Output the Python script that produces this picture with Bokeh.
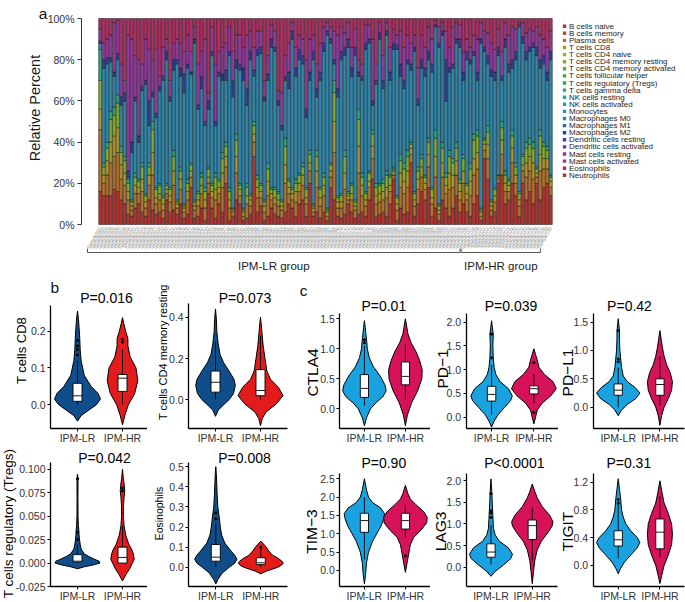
import numpy as np
from bokeh.plotting import figure
from bokeh.models import Range1d, FixedTicker, ColumnDataSource, NumeralTickFormatter
from bokeh.layouts import row, column
from bokeh.embed import file_html
from bokeh.resources import INLINE
from bokeh.core.properties import value

FONT = "Liberation Sans"

# ---------------- panel a data ----------------
cell_types = ["B cells naive", "B cells memory", "Plasma cells", "T cells CD8", "T cells CD4 naive",
              "T cells CD4 memory resting", "T cells CD4 memory activated", "T cells follicular helper",
              "T cells regulatory (Tregs)", "T cells gamma delta", "NK cells resting", "NK cells activated",
              "Monocytes", "Macrophages M0", "Macrophages M1", "Macrophages M2", "Dendritic cells resting",
              "Dendritic cells activated", "Mast cells resting", "Mast cells activated", "Eosinophils",
              "Neutrophils"]
palette = ["#B5332E", "#B5512E", "#B3712D", "#AC952B", "#9EAB2C", "#84AB2D", "#62AA2F", "#40A838",
           "#2EA857", "#2DA67B", "#2CA39C", "#2C9DAD", "#2D93AE", "#2E86AA", "#2F62A6", "#2F3C93",
           "#4D35A0", "#7036A0", "#92389B", "#A5348A", "#B02F63", "#B22F45"]

b_cells_naive = [16,14,14,14,17,16,12,10,5,4,8,10,6,4,12,7,5,6,3,12,6,7,5,10,3,5,18,3,4,8,2,15,8,
                 3,10,6,20,2,4,12,10,2,3,5,33,6,9,2,4,8,5,4,3,6,10,8,4,10,12,4,20,4,6,3,6,2,
                 18,12,4,3,5,10,6,3,5,6,4,12,22,4,5,6,4,10,22,2,8,5,6,30,4,10,16,12,18,4,8,2,12,
                 8,4,8,14,6,10,6,4,10,14,2,32,22,4,6,20,24,10,12,20,14,4,20,12,16,10,20,12,18,20,14]
plasma_cells = [30,6,10,16,16,19,10,9,7,3,7,5,10,4,7,17,5,6,4,3,5,12,3,7,3,7,5,4,5,7,6,5,5,
                9,5,12,8,6,2,13,4,2,7,4,7,7,4,4,10,4,5,5,4,14,5,4,7,6,7,6,6,2,12,6,8,2,
                5,23,4,5,12,2,6,4,20,8,5,6,10,6,6,6,9,6,2,5,10,10,12,4,5,7,7,5,10,6,15,3,11,
                7,13,10,10,6,10,6,10,14,13,2,4,10,3,5,2,10,6,4,10,6,5,6,11,10,12,3,14,9,7,4]
t_cells_cd8 = [10,4,7,10,10,12,7,6,4,2,4,3,6,3,5,11,3,3,3,2,3,7,2,5,2,4,3,2,3,4,4,3,3,
               5,3,7,5,4,1,8,3,2,4,3,4,5,3,3,7,3,3,3,2,9,3,3,5,4,5,3,4,2,8,4,5,2,
               3,15,3,3,8,2,3,2,13,5,3,3,6,4,4,4,5,3,2,3,7,6,8,3,3,5,5,3,6,3,10,2,7,
               4,8,6,7,4,6,3,7,8,8,2,3,7,2,3,1,7,4,3,7,4,3,3,7,7,8,2,8,5,5,3]
t_cells_cd4_memory_resting = [14,4,6,11,10,12,6,6,4,2,4,3,6,3,4,11,4,4,3,2,3,7,1,4,1,4,3,2,3,4,4,4,3,
                              6,3,7,5,4,1,8,2,1,4,2,4,4,3,2,6,2,4,3,2,9,3,2,4,4,4,4,4,1,7,4,4,1,
                              3,14,2,3,8,1,4,2,13,4,3,4,6,4,4,4,6,4,1,3,6,6,7,2,3,4,4,3,6,4,9,2,7,
                              4,8,6,6,4,6,4,6,9,8,1,2,6,2,3,1,6,4,2,6,4,3,4,7,6,7,2,9,6,4,2]
t_cells_gamma_delta = [15,2,3,4,4,4,3,2,2,1,2,1,2,1,2,4,1,1,1,1,1,3,1,2,1,2,1,1,1,2,2,1,1,
                       2,1,3,2,2,0,3,1,1,2,1,2,2,1,1,3,1,1,1,1,4,1,1,2,1,2,1,2,1,3,1,2,1,
                       1,6,1,1,3,1,1,1,5,2,1,1,2,2,1,2,2,1,1,1,3,3,3,1,1,2,2,1,2,1,4,1,3,
                       2,3,2,3,2,2,1,3,3,3,1,1,3,1,1,0,3,2,1,3,2,1,1,3,3,3,1,3,2,2,1]
macrophages_m0 = [3,46,38,24,15,17,20,27,1,23,35,18,35,53,18,12,34,45,56,60,42,39,66,44,54,54,43,76,40,41,30,28,62,
                  23,50,35,30,64,54,32,55,62,38,65,22,58,63,48,40,68,66,42,34,28,44,72,50,55,48,34,34,70,26,52,59,84,
                  58,8,48,65,46,70,52,70,16,45,69,62,12,48,70,44,66,46,57,71,38,36,42,35,68,30,42,48,38,56,50,76,52,
                  35,38,44,48,64,36,60,48,38,24,80,42,30,60,52,58,20,60,52,30,50,80,54,40,42,46,54,30,38,32,56]
macrophages_m2 = [1,4,3,2,2,3,4,4,3,5,2,3,2,2,12,2,2,2,2,4,2,5,2,4,9,2,1,2,2,6,2,4,2,
                  2,2,3,5,2,8,4,3,6,8,4,3,3,3,2,3,4,2,2,2,2,8,4,4,5,4,4,4,4,4,4,4,2,
                  2,2,4,4,4,4,4,4,2,2,3,2,2,2,3,4,2,4,3,2,6,4,2,3,2,3,4,4,4,4,1,2,2,
                  20,2,2,2,4,4,4,2,2,4,2,2,4,3,4,4,2,4,4,4,4,1,3,4,2,2,4,4,4,4,4]
mast_cells_resting = [6,8,9,11,24,16,16,6,66,50,20,37,11,20,25,16,31,5,14,6,8,8,10,12,11,14,10,6,20,12,40,4,12,
                      28,10,13,13,12,14,12,14,10,26,10,11,9,8,8,9,7,8,5,16,10,14,4,10,7,8,24,16,8,12,14,8,4,
                      6,14,26,12,7,8,10,9,6,6,9,7,30,8,5,12,4,12,7,5,16,16,12,10,6,15,12,10,12,12,2,8,4,
                      14,10,18,8,7,10,6,6,8,16,8,8,11,13,11,9,12,8,14,16,11,1,7,9,9,6,10,12,8,12,10]
eosinophils = [5,12,10,8,2,1,22,30,8,10,18,20,22,10,15,20,15,28,14,10,30,12,10,12,16,8,16,4,22,16,10,36,4,
               22,16,14,12,4,16,8,8,14,8,6,14,6,6,30,18,3,6,35,36,18,12,2,14,8,10,20,10,8,22,12,4,2,
               4,6,8,4,7,2,14,5,20,22,3,3,10,22,2,18,2,14,5,8,6,14,8,12,8,24,8,14,4,10,1,4,2,
               6,14,4,2,3,16,10,14,8,10,2,6,7,12,15,5,16,2,8,4,5,2,2,7,5,6,4,8,10,14,6]
stack_types = ["B cells naive", "Plasma cells", "T cells CD8", "T cells CD4 memory resting",
               "T cells gamma delta", "Macrophages M0", "Macrophages M2", "Mast cells resting", "Eosinophils"]
stack_values = [b_cells_naive, plasma_cells, t_cells_cd8, t_cells_cd4_memory_resting, t_cells_gamma_delta,
                macrophages_m0, macrophages_m2, mast_cells_resting, eosinophils]
n_lr, n_hr = 107, 23
group_names = ["IPM-LR group", "IPM-HR group"]
sample_ids = ["Sample%03d" % (i + 1) for i in range(n_lr + n_hr)]
pct_ticks = [0, 0.2, 0.4, 0.6, 0.8, 1.0]

# ---------------- panels b, c data (violin profile: level, half-width; box: lo, q1, med, q3, hi) ----------------
groups = ["IPM-LR", "IPM-HR"]

cd8_lr_y = [-0.045, -0.03, -0.015, 0.0, 0.015, 0.03, 0.05, 0.08, 0.12, 0.15, 0.18, 0.21, 0.235, 0.255]
cd8_lr_w = [0.0, 0.08, 0.25, 0.42, 0.51, 0.46, 0.3, 0.15, 0.08, 0.06, 0.05, 0.035, 0.02, 0.0]
cd8_hr_y = [-0.055, -0.03, 0.0, 0.03, 0.065, 0.1, 0.13, 0.16, 0.18, 0.2, 0.22, 0.237]
cd8_hr_w = [0.0, 0.05, 0.13, 0.27, 0.34, 0.3, 0.17, 0.12, 0.12, 0.07, 0.03, 0.0]
cd8_box = [[0.0, 0.009, 0.024, 0.058, 0.12], [0.0, 0.036, 0.072, 0.082, 0.15]]
cd8_out = [[0.135, 0.15, 0.16, 0.175], [0.17, 0.178]]

cd4r_lr_y = [-0.08, -0.05, -0.02, 0.0, 0.03, 0.07, 0.1, 0.14, 0.18, 0.22, 0.27, 0.33, 0.39, 0.44]
cd4r_lr_w = [0.0, 0.06, 0.2, 0.3, 0.4, 0.44, 0.41, 0.3, 0.18, 0.1, 0.06, 0.03, 0.02, 0.0]
cd4r_hr_y = [-0.125, -0.09, -0.06, -0.02, 0.02, 0.06, 0.1, 0.14, 0.2, 0.26, 0.32, 0.37, 0.40]
cd4r_hr_w = [0.0, 0.04, 0.12, 0.35, 0.5, 0.4, 0.22, 0.14, 0.1, 0.06, 0.035, 0.015, 0.0]
cd4r_box = [[0.0, 0.037, 0.085, 0.139, 0.28], [0.0, 0.02, 0.045, 0.146, 0.31]]
cd4r_out = [[], []]

treg_lr_y = [-0.006, -0.004, -0.002, 0.0, 0.002, 0.004, 0.007, 0.01, 0.015, 0.02, 0.025, 0.03, 0.035,
             0.04, 0.05, 0.07, 0.085, 0.09, 0.095]
treg_lr_w = [0.0, 0.15, 0.35, 0.5, 0.48, 0.38, 0.25, 0.15, 0.08, 0.06, 0.045, 0.035, 0.03, 0.02, 0.012,
             0.01, 0.012, 0.01, 0.0]
treg_hr_y = [-0.019, -0.012, -0.006, 0.0, 0.004, 0.01, 0.015, 0.02, 0.03, 0.04, 0.05, 0.06, 0.07, 0.077,
             0.083, 0.09, 0.1]
treg_hr_w = [0.0, 0.08, 0.16, 0.22, 0.26, 0.24, 0.2, 0.14, 0.07, 0.035, 0.02, 0.02, 0.035, 0.05, 0.04,
             0.02, 0.0]
treg_box = [[0.0, 0.001, 0.002, 0.009, 0.02], [0.0, 0.0, 0.006, 0.017, 0.04]]
treg_out = [[0.025, 0.033, 0.09], [0.077, 0.08]]

eos_lr_y = [-0.083, -0.06, -0.03, 0.0, 0.02, 0.04, 0.06, 0.08, 0.12, 0.16, 0.2, 0.24, 0.3, 0.36, 0.42, 0.47, 0.5]
eos_lr_w = [0.0, 0.05, 0.14, 0.3, 0.42, 0.47, 0.42, 0.34, 0.2, 0.13, 0.1, 0.08, 0.045, 0.03, 0.02, 0.01, 0.0]
eos_hr_y = [-0.033, -0.02, -0.01, 0.0, 0.01, 0.02, 0.03, 0.045, 0.06, 0.08, 0.1, 0.115, 0.13]
eos_hr_w = [0.0, 0.12, 0.25, 0.38, 0.46, 0.5, 0.47, 0.38, 0.26, 0.18, 0.12, 0.06, 0.0]
eos_box = [[0.0, 0.03, 0.05, 0.113, 0.22], [0.0, 0.013, 0.022, 0.047, 0.1]]
eos_out = [[0.24, 0.27], [0.1]]

ctla4_lr_y = [-0.28, -0.15, 0.0, 0.1, 0.2, 0.3, 0.4, 0.55, 0.7, 0.85, 1.0, 1.1, 1.25, 1.35, 1.47]
ctla4_lr_w = [0.0, 0.05, 0.15, 0.28, 0.45, 0.53, 0.5, 0.38, 0.22, 0.12, 0.07, 0.06, 0.035, 0.02, 0.0]
ctla4_hr_y = [-0.28, -0.1, 0.1, 0.3, 0.5, 0.65, 0.8, 0.95, 1.1, 1.25, 1.38, 1.5]
ctla4_hr_w = [0.0, 0.05, 0.15, 0.3, 0.4, 0.41, 0.35, 0.26, 0.14, 0.06, 0.03, 0.0]
ctla4_box = [[0.05, 0.19, 0.34, 0.57, 1.05], [0.15, 0.40, 0.54, 0.78, 1.08]]
ctla4_out = [[1.1, 1.15], []]

pd1_lr_y = [-0.21, -0.1, 0.05, 0.2, 0.35, 0.45, 0.6, 0.75, 0.9, 1.05, 1.25, 1.5, 1.62, 1.75, 1.88, 2.03]
pd1_lr_w = [0.0, 0.05, 0.15, 0.3, 0.45, 0.49, 0.4, 0.2, 0.1, 0.06, 0.04, 0.03, 0.035, 0.04, 0.02, 0.0]
pd1_hr_y = [-0.14, 0.0, 0.15, 0.3, 0.45, 0.6, 0.75, 0.9, 1.05, 1.2, 1.32, 1.44]
pd1_hr_w = [0.0, 0.04, 0.08, 0.2, 0.4, 0.53, 0.45, 0.25, 0.12, 0.08, 0.04, 0.0]
pd1_box = [[0.05, 0.34, 0.48, 0.65, 1.1], [0.3, 0.49, 0.6, 0.66, 0.9]]
pd1_out = [[1.25, 1.75], [1.15, 0.1]]

pdl1_lr_y = [-0.15, -0.05, 0.05, 0.15, 0.25, 0.35, 0.45, 0.55, 0.7, 0.85, 1.0, 1.2, 1.35, 1.45, 1.56]
pdl1_lr_w = [0.0, 0.08, 0.22, 0.42, 0.52, 0.4, 0.22, 0.12, 0.08, 0.06, 0.04, 0.03, 0.03, 0.015, 0.0]
pdl1_hr_y = [-0.32, -0.15, 0.0, 0.15, 0.3, 0.45, 0.6, 0.75, 0.9, 1.05, 1.2, 1.35]
pdl1_hr_w = [0.0, 0.04, 0.1, 0.2, 0.28, 0.3, 0.25, 0.16, 0.1, 0.06, 0.03, 0.0]
pdl1_box = [[0.0, 0.21, 0.3, 0.41, 0.7], [0.03, 0.21, 0.4, 0.5, 0.9]]
pdl1_out = [[0.8, 0.85, 1.35], []]

tim3_lr_y = [-0.36, -0.1, 0.2, 0.5, 0.8, 1.0, 1.2, 1.4, 1.55, 1.7, 1.85, 2.0, 2.2, 2.5]
tim3_lr_w = [0.0, 0.03, 0.05, 0.1, 0.2, 0.3, 0.4, 0.47, 0.49, 0.4, 0.2, 0.1, 0.05, 0.0]
tim3_hr_y = [-0.05, 0.2, 0.45, 0.7, 0.9, 1.1, 1.3, 1.45, 1.6, 1.8, 1.95, 2.1, 2.32]
tim3_hr_w = [0.0, 0.04, 0.08, 0.12, 0.2, 0.38, 0.52, 0.53, 0.45, 0.25, 0.12, 0.06, 0.0]
tim3_box = [[0.3, 1.04, 1.36, 1.56, 2.0], [0.9, 1.13, 1.36, 1.56, 1.8]]
tim3_out = [[], [0.4]]

lag3_lr_y = [-0.21, -0.1, 0.05, 0.2, 0.3, 0.45, 0.6, 0.75, 0.9, 1.1, 1.3, 1.5, 1.75, 2.04]
lag3_lr_w = [0.0, 0.1, 0.3, 0.48, 0.52, 0.42, 0.2, 0.1, 0.06, 0.05, 0.04, 0.03, 0.02, 0.0]
lag3_hr_y = [-0.38, -0.1, 0.15, 0.4, 0.6, 0.8, 0.95, 1.05, 1.2, 1.4, 1.6, 1.75, 1.92]
lag3_hr_w = [0.0, 0.03, 0.06, 0.12, 0.22, 0.38, 0.48, 0.5, 0.42, 0.24, 0.12, 0.06, 0.0]
lag3_box = [[0.06, 0.23, 0.35, 0.54, 0.98], [0.15, 0.64, 0.96, 1.09, 1.38]]
lag3_out = [[1.15, 1.25, 1.3, 1.7], []]

tigit_lr_y = [-0.12, -0.05, 0.05, 0.15, 0.25, 0.33, 0.4, 0.5, 0.6, 0.7, 0.8, 0.95, 1.1, 1.25]
tigit_lr_w = [0.0, 0.05, 0.15, 0.3, 0.45, 0.52, 0.46, 0.3, 0.18, 0.12, 0.08, 0.06, 0.03, 0.0]
tigit_hr_y = [-0.26, -0.15, 0.0, 0.15, 0.3, 0.45, 0.6, 0.75, 0.9, 1.05, 1.22]
tigit_hr_w = [0.0, 0.04, 0.1, 0.2, 0.28, 0.3, 0.28, 0.2, 0.1, 0.05, 0.0]
tigit_box = [[0.1, 0.28, 0.37, 0.5, 0.88], [0.12, 0.24, 0.48, 0.67, 1.0]]
tigit_out = [[0.9, 0.95], []]

b_colors = ["#104E8B", "#E31B1B"]
c_colors = ["#1AA2E0", "#D6125A"]

TOP_H, ROW2_H, ROW3_H = 275, 171, 156

# ---------------- panel a ----------------
n_bars = len(b_cells_naive)
mat = np.array(stack_values, dtype=float)
frac = mat / mat.sum(axis=0)
bar_data = {"x": np.arange(n_bars)}
for nm, vals in zip(stack_types, frac):
    bar_data[nm] = vals
bar_src = ColumnDataSource(bar_data)
stack_cols = [palette[cell_types.index(nm)] for nm in stack_types]

PA_W = 553
bar_px, bar0_px = 3.492, 98.0         # px per bar, left edge of first bar
y100_px, y0_px = 18.0, 224.0          # pixel rows of 100% and 0%
ppu_a = y0_px - y100_px
ax_x0 = -0.5 - bar0_px / bar_px
ax_x1 = ax_x0 + PA_W / bar_px
ay_top = 1.0 + y100_px / ppu_a
ay_bot = ay_top - TOP_H / ppu_a


def ax_px(px):
    return ax_x0 + px / bar_px


def ay_px(py):
    return ay_top - py / ppu_a


pa = figure(width=PA_W, height=TOP_H, x_range=Range1d(ax_x0, ax_x1), y_range=Range1d(ay_bot, ay_top),
            output_backend="svg", toolbar_location=None, x_axis_location=None, min_border=0,
            border_fill_color="white")
pa.vbar_stack(stack_types, x="x", width=0.9, fill_color=stack_cols, line_color="#151515",
              line_width=0.5, source=bar_src)
pa.grid.visible = False
pa.outline_line_color = None
ya = pa.yaxis[0]
ya.fixed_location = ax_px(81)
ya.ticker = FixedTicker(ticks=pct_ticks)
ya.formatter = NumeralTickFormatter(format="0%")
ya.bounds = (0, 1)
ya.major_label_text_font = FONT
ya.major_label_text_font_size = "10.5px"
ya.major_label_text_color = "#333333"
ya.major_tick_out = 4
ya.major_tick_in = 0
ya.minor_tick_out = 0
ya.minor_tick_in = 0
ya.major_label_standoff = 3
ya.axis_line_color = "#333333"
ya.major_tick_line_color = "#333333"

xs = np.arange(n_bars)
pa.text(x=xs, y=np.full(n_bars, -0.014), text=sample_ids, angle=np.pi / 3, text_align="right",
        text_baseline="middle", text_font=value(FONT), text_font_size="4.8px", text_color="#8a8a8a")

starts = [0, n_lr]
ends = [n_lr - 1, n_lr + n_hr - 1]
shift = 3.3
br_xs, br_ys, centers = [], [], []
for s, e in zip(starts, ends):
    lo, hi = s - 0.5 - shift + 0.15, e + 0.5 - shift - 0.15
    br_xs.append([lo, lo, hi, hi])
    br_ys.append([-0.117, -0.136, -0.136, -0.117])
    centers.append((lo + hi) / 2)
pa.multi_line(xs=br_xs, ys=br_ys, line_color="#555555", line_width=1)
pa.text(x=centers, y=[-0.2, -0.2], text=group_names, text_align="center", text_baseline="middle",
        text_font=value(FONT), text_font_size="11.5px", text_color="#1a1a1a")
pa.text(x=[ax_px(42.5)], y=[ay_px(12.5)], text=["a"], text_align="center", text_baseline="alphabetic",
        text_font=value(FONT), text_font_size="15.5px", text_color="#111111")
pa.text(x=[ax_px(34.7)], y=[ay_px(107.5)], text=["Relative Percent"], angle=np.pi / 2, text_align="center",
        text_baseline="middle", text_font=value(FONT), text_font_size="14.5px", text_color="#1a1a1a")

# ---------------- legend ----------------
PL_W = 132
pl = figure(width=PL_W, height=TOP_H, x_range=Range1d(0, PL_W), y_range=Range1d(TOP_H, 0),
            output_backend="svg", toolbar_location=None, x_axis_location=None, y_axis_location=None,
            min_border=0, border_fill_color="white")
pl.grid.visible = False
pl.outline_line_color = None
leg_y = [25.7 + 7.1 * k for k in range(len(cell_types))]
pl.scatter(x=[11] * len(cell_types), y=leg_y, marker="square", size=3.4, fill_color=palette,
           line_color=None)
pl.text(x=[15.5] * len(cell_types), y=leg_y, text=cell_types, text_align="left",
        text_baseline="middle", text_font=value(FONT), text_font_size="8px", text_color="#1e1e1e")


# ---------------- violin panels ----------------
def violin_panel(width, height, L, ppx, ytop, ybot, yext, yticks, yfmt, title, title_xy,
                 ylabel, ylabel_size, ylabel_xy, colors, profiles, boxes, outs, letter=None):
    ymin, ymax = yext
    ppy = (ybot - ytop) / (ymax - ymin)
    x0 = 0.4 - L / ppx
    x1 = x0 + width / ppx
    y1 = ymax + ytop / ppy
    y0 = y1 - height / ppy

    def X(px):
        return x0 + px / ppx

    def Y(py):
        return y1 - py / ppy

    p = figure(width=width, height=height, x_range=Range1d(x0, x1), y_range=Range1d(y0, y1),
               output_backend="svg", toolbar_location=None, min_border=0, border_fill_color="white")
    p.grid.visible = False
    p.outline_line_color = None
    for k, ((lev, wid), box, out) in enumerate(zip(profiles, boxes, outs)):
        c = k + 1
        px = [c - w for w in wid] + [c + w for w in wid[::-1]]
        py = list(lev) + list(lev[::-1])
        p.patch(px, py, fill_color=colors[k], line_color="#000000", line_width=1)
        lo, q1, med, q3, hi = box
        p.segment(x0=[c, c], y0=[q3, q1], x1=[c, c], y1=[hi, lo], line_color="#000000", line_width=0.9)
        p.quad(left=[c - 0.1], right=[c + 0.1], bottom=[q1], top=[q3], fill_color="white",
               line_color="#000000", line_width=0.9)
        p.segment(x0=[c - 0.1], y0=[med], x1=[c + 0.1], y1=[med], line_color="#000000", line_width=0.9)
        if out:
            p.scatter(x=[c] * len(out), y=out, size=2.2, color="#000000")
    for ax in (p.xaxis[0], p.yaxis[0]):
        ax.axis_line_color = "#000000"
        ax.axis_line_width = 1.3
        ax.major_tick_line_color = "#000000"
        ax.major_tick_line_width = 1
        ax.major_tick_out = 3
        ax.major_tick_in = 0
        ax.minor_tick_out = 0
        ax.minor_tick_in = 0
        ax.major_label_text_font = FONT
        ax.major_label_text_font_size = "10.5px"
        ax.major_label_text_color = "#333333"
    p.xaxis.fixed_location = ymin
    p.xaxis.bounds = (0.4, 2.6)
    p.xaxis.ticker = FixedTicker(ticks=[1, 2])
    p.xaxis.major_label_overrides = {1: groups[0], 2: groups[1]}
    p.xaxis.major_label_standoff = 0
    p.yaxis.fixed_location = 0.4
    p.yaxis.bounds = (ymin, ymax)
    p.yaxis.ticker = FixedTicker(ticks=yticks)
    p.yaxis.formatter = NumeralTickFormatter(format=yfmt)
    p.yaxis.major_label_standoff = 2
    p.text(x=[X(title_xy[0])], y=[Y(title_xy[1])], text=[title], text_align="center",
           text_baseline="middle", text_font=value(FONT), text_font_size="14px", text_color="#000000")
    p.text(x=[X(ylabel_xy[0])], y=[Y(ylabel_xy[1])], text=[ylabel], angle=np.pi / 2, text_align="center",
           text_baseline="middle", text_font=value(FONT), text_font_size=ylabel_size, text_color="#000000")
    if letter is not None:
        txt, lx, ly, al = letter
        p.text(x=[X(lx)], y=[Y(ly)], text=[txt], text_align=al, text_baseline="alphabetic",
               text_font=value(FONT), text_font_size="15.5px", text_color="#111111")
    return p


b1 = violin_panel(147, ROW2_H, 50, 45, 30, 153, (-0.065, 0.27), [0.0, 0.1, 0.2], "0.0",
                  "P=0.016", (106, 22.5), "T cells CD8", "13px", (20.8, 75), b_colors,
                  [(cd8_lr_y, cd8_lr_w), (cd8_hr_y, cd8_hr_w)], cd8_box, cd8_out, letter=("b", 50, 12, "left"))
b2 = violin_panel(143, ROW2_H, 41, 45, 28.3, 153, (-0.139, 0.465), [0.0, 0.2, 0.4], "0.0",
                  "P=0.073", (97.5, 22.5), "T cells CD4 memory resting", "11px", (15, 76.7), b_colors,
                  [(cd4r_lr_y, cd4r_lr_w), (cd4r_hr_y, cd4r_hr_w)], cd4r_box, cd4r_out)
c1 = violin_panel(140, ROW2_H, 49.3, 41, 38.3, 153, (-0.328, 1.583), [0.0, 0.5, 1.0, 1.5], "0.0",
                  "P=0.01", (93.3, 30), "CTLA4", "15.5px", (21.7, 97), c_colors,
                  [(ctla4_lr_y, ctla4_lr_w), (ctla4_hr_y, ctla4_hr_w)], ctla4_box, ctla4_out,
                  letter=("c", 13, 15, "center"))
c2 = violin_panel(128, ROW2_H, 35.7, 42.3, 38.3, 153, (-0.238, 2.177), [0.0, 0.5, 1.0, 1.5, 2.0], "0.0",
                  "P=0.039", (80.5, 30), "PD\u22121", "15.5px", (11.5, 93.5), c_colors,
                  [(pd1_lr_y, pd1_lr_w), (pd1_hr_y, pd1_hr_w)], pd1_box, pd1_out)
c3 = violin_panel(127, ROW2_H, 34.7, 41.7, 38.3, 153, (-0.376, 1.647), [0.0, 0.5, 1.0, 1.5], "0.0",
                  "P=0.42", (71, 30), "PD\u2212L1", "15.5px", (8.7, 97), c_colors,
                  [(pdl1_lr_y, pdl1_lr_w), (pdl1_hr_y, pdl1_hr_w)], pdl1_box, pdl1_out)
b3 = violin_panel(147, ROW3_H, 50, 45, 15.7, 140, (-0.025, 0.1076),
                  [-0.025, 0.0, 0.025, 0.05, 0.075, 0.1], "0.000",
                  "P=0.042", (104, 11), "T cells regulatory (Tregs)", "13.5px", (7.5, 77), b_colors,
                  [(treg_lr_y, treg_lr_w), (treg_hr_y, treg_hr_w)], treg_box, treg_out)
b4 = violin_panel(143, ROW3_H, 41.3, 45, 15.7, 140, (-0.096, 0.5224), [0.0, 0.1, 0.2, 0.3, 0.4, 0.5], "0.0",
                  "P=0.008", (97, 11), "Eosinophils", "10.5px", (11, 67), b_colors,
                  [(eos_lr_y, eos_lr_w), (eos_hr_y, eos_hr_w)], eos_box, eos_out)
c4 = violin_panel(140, ROW3_H, 49.3, 41, 27.3, 140, (-0.436, 2.635), [0.0, 0.5, 1.0, 1.5, 2.0, 2.5], "0.0",
                  "P=0.90", (93.3, 16), "TIM\u22123", "15.5px", (20.5, 85), c_colors,
                  [(tim3_lr_y, tim3_lr_w), (tim3_hr_y, tim3_hr_w)], tim3_box, tim3_out)
c5 = violin_panel(128, ROW3_H, 35.7, 41.3, 27.3, 140, (-0.446, 2.157), [0.0, 0.5, 1.0, 1.5, 2.0], "0.0",
                  "P<0.0001", (83.8, 16), "LAG3", "15.5px", (10, 85), c_colors,
                  [(lag3_lr_y, lag3_lr_w), (lag3_hr_y, lag3_hr_w)], lag3_box, lag3_out)
c6 = violin_panel(127, ROW3_H, 34.7, 41.7, 27.3, 140, (-0.303, 1.321), [0.0, 0.4, 0.8, 1.2], "0.0",
                  "P=0.31", (70.3, 16), "TIGIT", "15.5px", (8.7, 85), c_colors,
                  [(tigit_lr_y, tigit_lr_w), (tigit_hr_y, tigit_hr_w)], tigit_box, tigit_out)

layout = column(row(pa, pl), row(b1, b2, c1, c2, c3), row(b3, b4, c4, c5, c6))
open("out.html", "w").write(file_html(layout, INLINE))
